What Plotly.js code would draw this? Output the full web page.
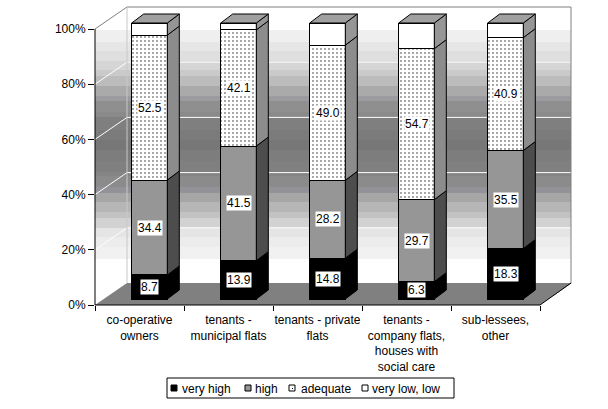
<!DOCTYPE html>
<html><head><meta charset="utf-8">
<script src="https://cdn.plot.ly/plotly-3.0.1.min.js"></script>
<style>html,body{margin:0;padding:0;background:#fff}#chart{width:608px;height:409px}</style>
</head><body><div id="chart"></div>
<script>
// ---- data ----
const categories = ['co-operative<br>owners', 'tenants -<br>municipal flats', 'tenants - private<br>flats', 'tenants -<br>company flats,<br>houses with<br>social care', 'sub-lessees,<br>other'];
const seriesNames = ['very high', 'high', 'adequate', 'very low, low'];
const veryHigh = [8.7, 13.9, 14.8, 6.3, 18.3];
const high = [34.4, 41.5, 28.2, 29.7, 35.5];
const adequate = [52.5, 42.1, 49.0, 54.7, 40.9];
const veryLowLow = [4.4, 2.5, 8.0, 9.3, 5.3];
const yTickVals = [0, 20, 40, 60, 80, 100];

// ---- geometry / style ----
const PL = 95, PR = 571, PT = 7, PB = 305;
const PX_CAT = 89, PX_PCT = 2.76;
const xRange = [-0.5, -0.5 + (PR - PL) / PX_CAT];
const yRange = [0, (PB - PT) / PX_PCT];
const shiftX = 10 / PX_CAT, shiftY = 6 / PX_PCT;
const depX = 12 / PX_CAT, depY = 9 / PX_PCT;
const wallX = 32, wallY = 22;
const barW = 0.4, barOff = shiftX - barW / 2;
const fx = p => (p - PL) / (PR - PL);
const fy = p => (PB - p) / (PB - PT);
const FONT = 'Arial, "Liberation Sans", sans-serif';

const series = [veryHigh, high, adequate, veryLowLow];
const frontFill = ['#000000', '#969696', '#ffffff', '#ffffff'];
const sideFill = ['#000000', '#4d4d4d', '#8c8c8c', '#969696'];
const bands = [
  [30,42,'#efefef'],[42,51,'#e6e6e6'],[51,61,'#dfdfdf'],[61,70,'#d5d5d5'],[70,76,'#cacaca'],
  [76,86,'#bcbcbc'],[86,96,'#aaaaaa'],[96,101,'#9b9ba0'],[101,112,'#8f8f8f'],[112,117,'#8a8a8a'],
  [117,130,'#7f7f7f'],[130,140,'#7b7b7b'],[140,150,'#777777'],[150,161,'#7d7d7d'],[161,172,'#808080'],
  [172,176,'#858585'],[176,187,'#8b8b8b'],[187,193,'#929298'],[193,202,'#a6a6a6'],[202,212,'#b6b6b6'],
  [212,218,'#c2c2c2'],[218,228,'#d2d2d2'],[228,237,'#e5e5e5'],[237,247,'#ececec'],[247,259,'#f1f1f1']
];

const traces = [];
traces.push({type: 'scatter', x: categories, y: categories.map(() => null), mode: 'markers',
  hoverinfo: 'skip', showlegend: false, xaxis: 'x', yaxis: 'y'});
series.forEach((vals, s) => {
  const tr = {
    type: 'bar', name: seriesNames[s], x: categories, y: vals, xaxis: 'x', yaxis: 'y2',
    width: barW, offset: barOff, showlegend: false,
    marker: {color: frontFill[s], line: {color: '#000', width: 1}},
    hovertemplate: '%{x}: %{y:.1f}<extra>' + seriesNames[s] + '</extra>'
  };
  if (s === 2) tr.marker.pattern = {shape: '.', fgcolor: '#000', bgcolor: '#fff', size: 4, solidity: 0.08, fillmode: 'replace'};
  traces.push(tr);
});

const shapes = [];
const pline = (x0, y0, x1, y1, color, w) => shapes.push({type: 'line', xref: 'paper', yref: 'paper',
  x0: fx(x0), y0: fy(y0), x1: fx(x1), y1: fy(y1), line: {color: color, width: w || 1}, layer: 'below'});
const ppath = (pts, fill, line) => shapes.push({type: 'path', xref: 'paper', yref: 'paper', layer: 'below',
  path: 'M' + pts.map(p => fx(p[0]) + ',' + fy(p[1])).join(' L') + ' Z', fillcolor: fill,
  line: {width: line ? 1 : 0, color: line || 'rgba(0,0,0,0)'}});
// gradient bands on walls
bands.forEach(b => shapes.push({type: 'rect', xref: 'paper', yref: 'paper', layer: 'below',
  x0: fx(PL), x1: fx(PR), y0: fy(b[1]), y1: fy(b[0]), fillcolor: b[2], line: {width: 0}}));
// cover outside of side wall top
ppath([[PL - 1, PT - 1], [PL + wallX, PT - 1], [PL + wallX, PT], [PL, PT + wallY]], '#ffffff');
// gridlines
const tickPx = v => PB - v * PX_PCT;
yTickVals.forEach(v => {
  if (v === 0 || v === 100) return;
  const ty = tickPx(v);
  pline(PL + wallX, ty - wallY, PR, ty - wallY, '#ffffff');
  pline(PL, ty, PL + wallX, ty - wallY, '#ffffff');
});
// wall borders
pline(PL + wallX, PT, PR, PT, '#808080');
pline(PR, PT, PR, PB - wallY, '#808080');
pline(PL + wallX, PT, PL + wallX, PB - wallY, '#c8c8c8');
pline(PL, tickPx(100), PL + wallX, PT, '#808080');
// floor
const xEnd = PL + categories.length * PX_CAT;
ppath([[PL, PB], [xEnd, PB], [xEnd + wallX, PB - wallY], [PL + wallX, PB - wallY]], '#808080');
pline(xEnd, PB, xEnd + wallX - 1, PB - wallY, '#000000');
// axis lines
pline(PL, tickPx(100), PL, PB, '#000000');
pline(PL, PB, xEnd, PB, '#000000');

// bar depth faces
const cum = categories.map(() => 0);
series.forEach((vals, s) => {
  vals.forEach((v, i) => {
    const b = cum[i], t = cum[i] + v, xr = i + barOff + barW;
    shapes.push({type: 'path', xref: 'x', yref: 'y2', layer: 'above',
      path: `M${xr},${b} L${xr + depX},${b + depY} L${xr + depX},${t + depY} L${xr},${t} Z`,
      fillcolor: sideFill[s], line: {color: '#000', width: 1}});
    cum[i] = t;
  });
});
cum.forEach((t, i) => {
  const xl = i + barOff, xr = xl + barW;
  shapes.push({type: 'path', xref: 'x', yref: 'y2', layer: 'above',
    path: `M${xl},${t} L${xr},${t} L${xr + depX},${t + depY} L${xl + depX},${t + depY} Z`,
    fillcolor: '#a0a0a0', line: {color: '#000', width: 1}});
});

// value labels
const annotations = [];
const cum2 = categories.map(() => 0);
series.forEach((vals, s) => {
  vals.forEach((v, i) => {
    if (s < 3) annotations.push({xref: 'x', yref: 'y2', x: i + shiftX, y: cum2[i] + v / 2,
      text: v.toFixed(1), showarrow: false, bgcolor: '#ffffff', borderpad: 0,
      font: {family: FONT, size: 12, color: '#000'}});
    cum2[i] += v;
  });
});

// legend (drawn)
ppath([[167, 378], [454, 378], [454, 398], [167, 398]], '#ffffff', '#000000');
const legSq = [171, 245, 289, 362];
const legTx = [180, 253, 299, 370];
const legFill = ['#000000', '#969696', '#ffffff', '#ffffff'];
seriesNames.forEach((n, k) => {
  ppath([[legSq[k], 385], [legSq[k] + 6, 385], [legSq[k] + 6, 391], [legSq[k], 391]], legFill[k], '#000000');
  if (k === 2) ppath([[legSq[k] + 3, 388], [legSq[k] + 4, 388], [legSq[k] + 4, 389], [legSq[k] + 3, 389]], '#000000');
  annotations.push({xref: 'paper', yref: 'paper', x: fx(legTx[k]), y: fy(388.5), xanchor: 'left', yanchor: 'middle',
    text: n, showarrow: false, font: {family: FONT, size: 12, color: '#000'}});
});

const layout = {
  width: 608, height: 409,
  margin: {l: PL, r: 608 - PR, t: PT, b: 409 - PB, pad: 0},
  paper_bgcolor: '#ffffff', plot_bgcolor: 'rgba(0,0,0,0)',
  font: {family: FONT, size: 12, color: '#000'},
  showlegend: false, barmode: 'stack',
  xaxis: {type: 'category', categoryorder: 'array', categoryarray: categories, range: xRange,
    tickson: 'boundaries', ticks: 'outside', ticklen: 5, tickcolor: '#000', tickwidth: 1, tickangle: 0,
    ticklabelstandoff: 6,
    showline: false, showgrid: false, zeroline: false, fixedrange: true,
    tickfont: {family: FONT, size: 12, color: '#000'}},
  yaxis: {range: yRange, tickvals: yTickVals, ticktext: yTickVals.map(v => v + '%'),
    ticks: 'outside', ticklen: 6, tickcolor: '#000', tickwidth: 1,
    showline: false, showgrid: false, zeroline: false, fixedrange: true,
    tickfont: {family: FONT, size: 12, color: '#000'}},
  yaxis2: {overlaying: 'y', range: [yRange[0] - shiftY, yRange[1] - shiftY], visible: false, fixedrange: true},
  shapes: shapes, annotations: annotations
};
Plotly.newPlot('chart', traces, layout, {displayModeBar: false, staticPlot: true});
</script></body></html>
